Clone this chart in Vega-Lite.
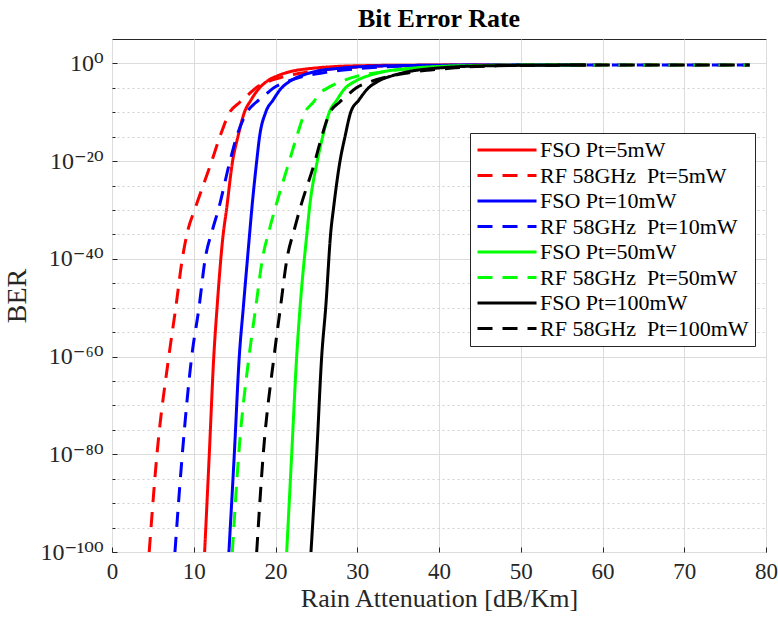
{
  "$schema": "https://vega.github.io/schema/vega-lite/v6.json",
  "width": 654,
  "height": 513,
  "autosize": "none",
  "padding": {"left": 112, "top": 39, "right": 12, "bottom": 70},
  "background": "white",
  "title": {"text": "Bit Error Rate", "font": "Liberation Serif", "fontSize": 26, "fontWeight": "bold", "color": "black", "anchor": "middle", "baseline": "bottom", "offset": -19},
  "data": {"values": [
    {"s": "F5", "a": 11.33, "b": 1e-100}, {"s": "F5", "a": 11.9, "b": 1e-80}, {"s": "F5", "a": 12.45, "b": 1e-60}, {"s": "F5", "a": 12.85, "b": 1e-50}, {"s": "F5", "a": 13.6, "b": 1e-35}, {"s": "F5", "a": 14.0, "b": 1e-30}, {"s": "F5", "a": 14.75, "b": 1e-20}, {"s": "F5", "a": 15.4, "b": 1e-15}, {"s": "F5", "a": 16.2, "b": 1e-10}, {"s": "F5", "a": 17.0, "b": 3.16e-8}, {"s": "F5", "a": 17.9, "b": 5.01e-6}, {"s": "F5", "a": 19.0, "b": 2.51e-4}, {"s": "F5", "a": 20.3, "b": 3.16e-3}, {"s": "F5", "a": 22.0, "b": 0.0251}, {"s": "F5", "a": 24.5, "b": 0.1}, {"s": "F5", "a": 27.5, "b": 0.24}, {"s": "F5", "a": 31, "b": 0.355}, {"s": "F5", "a": 36, "b": 0.437}, {"s": "F5", "a": 44, "b": 0.479}, {"s": "F5", "a": 58, "b": 0.5},
    {"s": "R5", "a": 4.55, "b": 1e-100}, {"s": "R5", "a": 5.5, "b": 1e-80}, {"s": "R5", "a": 6.95, "b": 1e-60}, {"s": "R5", "a": 7.8, "b": 1e-50}, {"s": "R5", "a": 8.6, "b": 1e-40}, {"s": "R5", "a": 9.3, "b": 1e-34}, {"s": "R5", "a": 10.1, "b": 1e-30}, {"s": "R5", "a": 12.2, "b": 1e-20}, {"s": "R5", "a": 13.2, "b": 1e-15}, {"s": "R5", "a": 14.4, "b": 1e-10}, {"s": "R5", "a": 15.6, "b": 1e-8}, {"s": "R5", "a": 16.6, "b": 3.16e-7}, {"s": "R5", "a": 17.6, "b": 1e-5}, {"s": "R5", "a": 19.0, "b": 1.58e-4}, {"s": "R5", "a": 21.3, "b": 2.51e-3}, {"s": "R5", "a": 23.0, "b": 0.01}, {"s": "R5", "a": 25.5, "b": 0.0398}, {"s": "R5", "a": 28, "b": 0.112}, {"s": "R5", "a": 32, "b": 0.251}, {"s": "R5", "a": 38, "b": 0.38}, {"s": "R5", "a": 48, "b": 0.457}, {"s": "R5", "a": 60, "b": 0.49}, {"s": "R5", "a": 78, "b": 0.5},
    {"s": "F10", "a": 14.3, "b": 1e-100}, {"s": "F10", "a": 14.96, "b": 1e-80}, {"s": "F10", "a": 15.57, "b": 1e-60}, {"s": "F10", "a": 16.06, "b": 1e-50}, {"s": "F10", "a": 16.88, "b": 1e-34}, {"s": "F10", "a": 17.09, "b": 1e-30}, {"s": "F10", "a": 17.7, "b": 1e-20}, {"s": "F10", "a": 18.05, "b": 1e-15}, {"s": "F10", "a": 18.8, "b": 1e-10}, {"s": "F10", "a": 19.7, "b": 3.16e-8}, {"s": "F10", "a": 20.6, "b": 5.01e-6}, {"s": "F10", "a": 21.8, "b": 2.51e-4}, {"s": "F10", "a": 23.2, "b": 3.16e-3}, {"s": "F10", "a": 25.0, "b": 0.0251}, {"s": "F10", "a": 27.8, "b": 0.1}, {"s": "F10", "a": 31, "b": 0.24}, {"s": "F10", "a": 35, "b": 0.355}, {"s": "F10", "a": 40, "b": 0.437}, {"s": "F10", "a": 47, "b": 0.479}, {"s": "F10", "a": 58, "b": 0.5},
    {"s": "R10", "a": 7.7, "b": 1e-100}, {"s": "R10", "a": 8.6, "b": 1e-80}, {"s": "R10", "a": 9.75, "b": 1e-60}, {"s": "R10", "a": 10.64, "b": 1e-50}, {"s": "R10", "a": 11.4, "b": 1e-40}, {"s": "R10", "a": 12.3, "b": 1e-34}, {"s": "R10", "a": 13.0, "b": 1e-30}, {"s": "R10", "a": 14.43, "b": 1e-20}, {"s": "R10", "a": 15.25, "b": 1e-15}, {"s": "R10", "a": 16.5, "b": 1e-10}, {"s": "R10", "a": 17.6, "b": 1e-8}, {"s": "R10", "a": 18.7, "b": 3.16e-7}, {"s": "R10", "a": 19.8, "b": 1e-5}, {"s": "R10", "a": 21.3, "b": 1.58e-4}, {"s": "R10", "a": 23.5, "b": 2.51e-3}, {"s": "R10", "a": 25.5, "b": 0.01}, {"s": "R10", "a": 28, "b": 0.0398}, {"s": "R10", "a": 31, "b": 0.112}, {"s": "R10", "a": 35, "b": 0.251}, {"s": "R10", "a": 41, "b": 0.38}, {"s": "R10", "a": 50, "b": 0.457}, {"s": "R10", "a": 62, "b": 0.49}, {"s": "R10", "a": 78, "b": 0.5},
    {"s": "F50", "a": 21.37, "b": 1e-100}, {"s": "F50", "a": 21.98, "b": 1e-80}, {"s": "F50", "a": 22.59, "b": 1e-60}, {"s": "F50", "a": 23.0, "b": 1e-50}, {"s": "F50", "a": 23.89, "b": 1e-34}, {"s": "F50", "a": 24.13, "b": 1e-30}, {"s": "F50", "a": 25.11, "b": 1e-20}, {"s": "F50", "a": 25.77, "b": 1e-15}, {"s": "F50", "a": 26.58, "b": 1e-10}, {"s": "F50", "a": 27.5, "b": 3.16e-8}, {"s": "F50", "a": 28.4, "b": 5.01e-6}, {"s": "F50", "a": 29.8, "b": 2.51e-4}, {"s": "F50", "a": 31.4, "b": 3.16e-3}, {"s": "F50", "a": 33.5, "b": 0.0251}, {"s": "F50", "a": 36.5, "b": 0.1}, {"s": "F50", "a": 40, "b": 0.24}, {"s": "F50", "a": 44, "b": 0.355}, {"s": "F50", "a": 49, "b": 0.437}, {"s": "F50", "a": 54, "b": 0.479}, {"s": "F50", "a": 58, "b": 0.49},
    {"s": "R50", "a": 14.72, "b": 1e-100}, {"s": "R50", "a": 15.5, "b": 1e-80}, {"s": "R50", "a": 16.76, "b": 1e-60}, {"s": "R50", "a": 17.58, "b": 1e-50}, {"s": "R50", "a": 18.4, "b": 1e-40}, {"s": "R50", "a": 19.25, "b": 1e-34}, {"s": "R50", "a": 19.9, "b": 1e-30}, {"s": "R50", "a": 21.69, "b": 1e-20}, {"s": "R50", "a": 22.59, "b": 1e-15}, {"s": "R50", "a": 23.61, "b": 1e-10}, {"s": "R50", "a": 24.6, "b": 1e-8}, {"s": "R50", "a": 25.5, "b": 1e-6}, {"s": "R50", "a": 26.4, "b": 1e-5}, {"s": "R50", "a": 27.9, "b": 1.58e-4}, {"s": "R50", "a": 30, "b": 2.51e-3}, {"s": "R50", "a": 32, "b": 0.01}, {"s": "R50", "a": 34.5, "b": 0.0398}, {"s": "R50", "a": 37.5, "b": 0.112}, {"s": "R50", "a": 41.5, "b": 0.251}, {"s": "R50", "a": 47, "b": 0.38}, {"s": "R50", "a": 55, "b": 0.457}, {"s": "R50", "a": 65, "b": 0.49}, {"s": "R50", "a": 78, "b": 0.5},
    {"s": "F100", "a": 24.34, "b": 1e-100}, {"s": "F100", "a": 25.04, "b": 1e-80}, {"s": "F100", "a": 25.65, "b": 1e-60}, {"s": "F100", "a": 26.14, "b": 1e-50}, {"s": "F100", "a": 26.79, "b": 1e-34}, {"s": "F100", "a": 27.07, "b": 1e-30}, {"s": "F100", "a": 27.89, "b": 1e-20}, {"s": "F100", "a": 28.5, "b": 1e-15}, {"s": "F100", "a": 29.2, "b": 1e-10}, {"s": "F100", "a": 30.2, "b": 3.16e-8}, {"s": "F100", "a": 31.2, "b": 5.01e-6}, {"s": "F100", "a": 32.6, "b": 2.51e-4}, {"s": "F100", "a": 34.3, "b": 3.16e-3}, {"s": "F100", "a": 36.5, "b": 0.0251}, {"s": "F100", "a": 39.5, "b": 0.1}, {"s": "F100", "a": 43, "b": 0.24}, {"s": "F100", "a": 47, "b": 0.355}, {"s": "F100", "a": 52, "b": 0.427}, {"s": "F100", "a": 58, "b": 0.468},
    {"s": "R100", "a": 17.7, "b": 1e-100}, {"s": "R100", "a": 18.5, "b": 1e-80}, {"s": "R100", "a": 19.82, "b": 1e-60}, {"s": "R100", "a": 20.6, "b": 1e-50}, {"s": "R100", "a": 21.4, "b": 1e-40}, {"s": "R100", "a": 22.3, "b": 1e-34}, {"s": "R100", "a": 22.95, "b": 1e-30}, {"s": "R100", "a": 24.83, "b": 1e-20}, {"s": "R100", "a": 25.65, "b": 1e-15}, {"s": "R100", "a": 26.67, "b": 1e-10}, {"s": "R100", "a": 27.8, "b": 1e-8}, {"s": "R100", "a": 28.8, "b": 3.16e-7}, {"s": "R100", "a": 29.9, "b": 1e-5}, {"s": "R100", "a": 31.5, "b": 1.58e-4}, {"s": "R100", "a": 33.8, "b": 2e-3}, {"s": "R100", "a": 36, "b": 0.01}, {"s": "R100", "a": 38.5, "b": 0.0398}, {"s": "R100", "a": 41.3, "b": 0.1}, {"s": "R100", "a": 43.5, "b": 0.2}, {"s": "R100", "a": 47, "b": 0.316}, {"s": "R100", "a": 52, "b": 0.417}, {"s": "R100", "a": 60, "b": 0.468}, {"s": "R100", "a": 70, "b": 0.49}, {"s": "R100", "a": 78, "b": 0.5}
  ]},
  "mark": {"type": "line", "strokeWidth": 3, "clip": true, "interpolate": "monotone"},
  "encoding": {
    "x": {
      "field": "a", "type": "quantitative",
      "scale": {"domain": [0, 80], "nice": false, "zero": false},
      "axis": {
        "values": [0, 10, 20, 30, 40, 50, 60, 70, 80],
        "title": "Rain Attenuation [dB/Km]",
        "titleFont": "Liberation Serif", "titleFontSize": 26, "titleFontWeight": "normal", "titleColor": "#262626", "titlePadding": 2,
        "labelFont": "Liberation Serif", "labelFontSize": 23, "labelColor": "#262626", "labelPadding": 13,
        "labelFlush": false, "labelOverlap": false,
        "ticks": true, "tickSize": -5, "tickColor": "#262626", "tickWidth": 1, "domain": false,
        "grid": true, "gridColor": "#dcdcdc", "gridWidth": 1
      }
    },
    "y": {
      "field": "b", "type": "quantitative",
      "scale": {"type": "log", "domain": [1e-100, 1e5], "nice": false},
      "axis": {
        "values": [1e-100, 1e-95, 1e-90, 1e-85, 1e-80, 1e-75, 1e-70, 1e-65, 1e-60, 1e-55, 1e-50, 1e-45, 1e-40, 1e-35, 1e-30, 1e-25, 1e-20, 1e-15, 1e-10, 1e-5, 1],
        "labelExpr": "round(log(datum.value)/LN10) == 0 ? '10⁰' : round(log(datum.value)/LN10) == -20 ? '10⁻²⁰' : round(log(datum.value)/LN10) == -40 ? '10⁻⁴⁰' : round(log(datum.value)/LN10) == -60 ? '10⁻⁶⁰' : round(log(datum.value)/LN10) == -80 ? '10⁻⁸⁰' : round(log(datum.value)/LN10) == -100 ? '10⁻¹⁰⁰' : ''",
        "title": "BER",
        "titleFont": "Liberation Serif", "titleFontSize": 28, "titleFontWeight": "normal", "titleColor": "#262626", "titlePadding": 8,
        "labelFont": "Liberation Serif, DejaVu Serif", "labelFontSize": 24, "labelColor": "#262626", "labelPadding": 14,
        "labelFlush": false, "labelOverlap": false,
        "ticks": true, "tickColor": "#262626", "tickWidth": 1,
        "tickSize": {"condition": {"test": "round(log(datum.value)/LN10) % 20 == 0", "value": -5}, "value": -3},
        "domain": false,
        "grid": true,
        "gridColor": {"condition": {"test": "round(log(datum.value)/LN10) % 20 == 0", "value": "#dcdcdc"}, "value": "#d0d0d0"},
        "gridDash": {"condition": {"test": "round(log(datum.value)/LN10) % 20 == 0", "value": []}, "value": [2, 3]}
      }
    },
    "color": {
      "field": "s", "type": "nominal",
      "scale": {"domain": ["F5", "R5", "F10", "R10", "F50", "R50", "F100", "R100"], "range": ["#ff0000", "#ff0000", "#0000ff", "#0000ff", "#00ff00", "#00ff00", "#000000", "#000000"]},
      "legend": {"title": null, "orient": "none", "legendX": 358, "legendY": 94,
        "labelExpr": "datum.label == 'F5' ? 'FSO Pt=5mW' : datum.label == 'R5' ? 'RF 58GHz\u00a0\u00a0Pt=5mW' : datum.label == 'F10' ? 'FSO Pt=10mW' : datum.label == 'R10' ? 'RF 58GHz\u00a0\u00a0Pt=10mW' : datum.label == 'F50' ? 'FSO Pt=50mW' : datum.label == 'R50' ? '\u00a0RF 58GHz\u00a0\u00a0Pt=50mW' : datum.label == 'F100' ? 'FSO Pt=100mW' : '\u00a0RF 58GHz\u00a0\u00a0Pt=100mW'"}
    },
    "strokeDash": {
      "field": "s", "type": "nominal",
      "scale": {"domain": ["F5", "R5", "F10", "R10", "F50", "R50", "F100", "R100"], "range": [[1, 0], [15, 10], [1, 0], [15, 10], [1, 0], [15, 10], [1, 0], [15, 10]]},
      "legend": {"title": null, "orient": "none", "legendX": 358, "legendY": 94,
        "labelExpr": "datum.label == 'F5' ? 'FSO Pt=5mW' : datum.label == 'R5' ? 'RF 58GHz\u00a0\u00a0Pt=5mW' : datum.label == 'F10' ? 'FSO Pt=10mW' : datum.label == 'R10' ? 'RF 58GHz\u00a0\u00a0Pt=10mW' : datum.label == 'F50' ? 'FSO Pt=50mW' : datum.label == 'R50' ? '\u00a0RF 58GHz\u00a0\u00a0Pt=50mW' : datum.label == 'F100' ? 'FSO Pt=100mW' : '\u00a0RF 58GHz\u00a0\u00a0Pt=100mW'"}
    }
  },
  "config": {
    "view": {"stroke": "#262626", "strokeWidth": 1},
    "legend": {
      "direction": "vertical", "columns": 1,
      "symbolType": "stroke", "symbolSize": 3481, "symbolStrokeWidth": 3,
      "clipHeight": 22, "rowPadding": 3.5, "padding": 6, "labelOffset": 2,
      "labelFont": "Liberation Serif", "labelFontSize": 22, "labelColor": "black", "labelLimit": 400,
      "strokeColor": "#262626", "fillColor": "white"
    }
  }
}
